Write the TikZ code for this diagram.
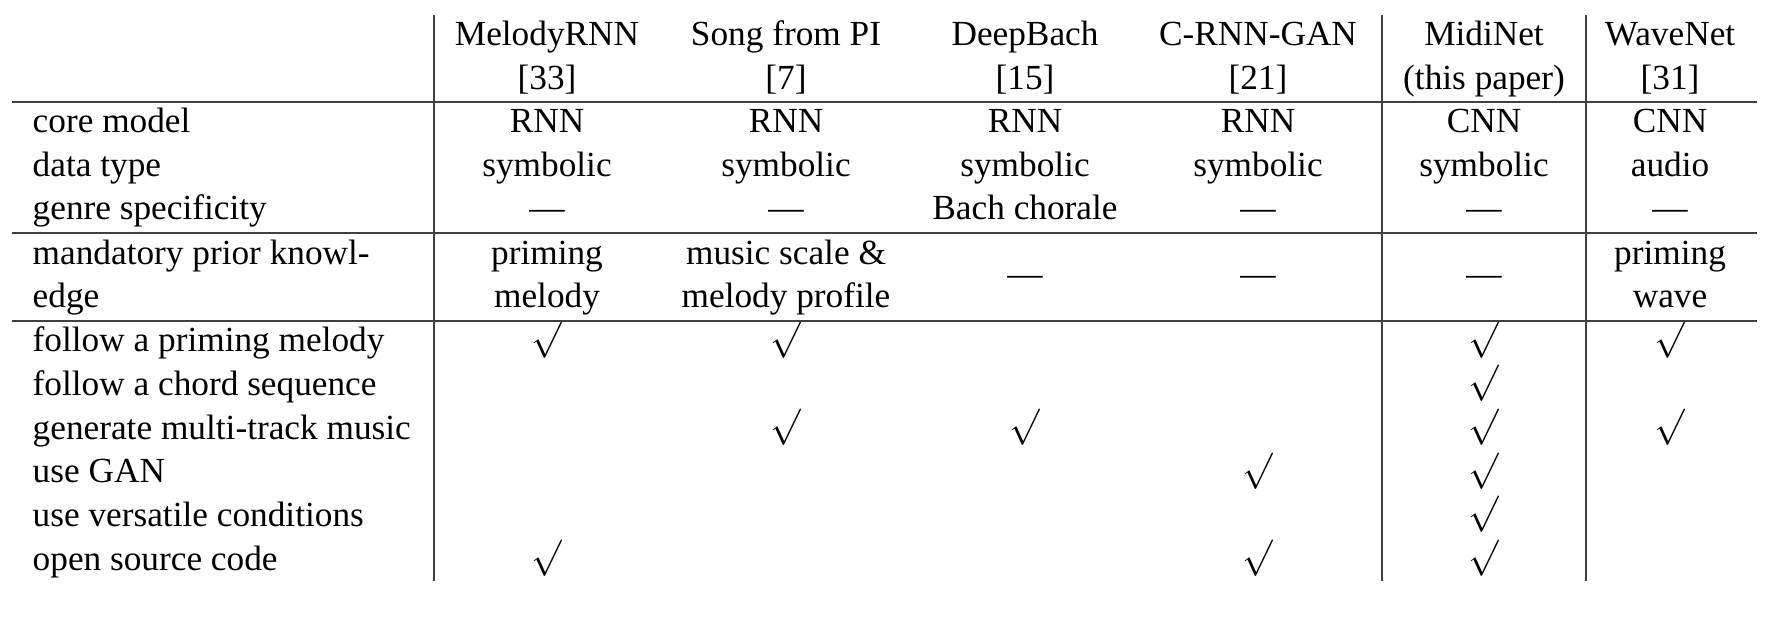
\documentclass[tikz,border=0pt]{standalone}
\usepackage{fontspec}
\setmainfont{Liberation Serif}
\usetikzlibrary{positioning}

\begin{document}
\begin{tikzpicture}
[x=0.275pt, y=-0.275pt,
 cell/.style={anchor=base, inner sep=0pt, font=\fontsize{9.7}{12}\selectfont},
 rowhead/.style={cell, anchor=base west},
 tick/.style={cell},
 rule/.style={draw=black!75, line width=0.55pt}]

  \useasboundingbox (0,0) rectangle (1780,618);

  % column centres
  \foreach \x [count=\c] in {547,786,1025,1258,1484,1670}
    \coordinate (col\c) at (\x,0);

  % header
  \foreach \model/\source [count=\c] in {MelodyRNN/[33], Song from PI/[7], DeepBach/[15], C-RNN-GAN/[21], MidiNet/(this paper), WaveNet/[31]} {
    \node[cell] (model-\c) at (col\c |- 0,45.6) {\model};
    \node[cell] (source-\c) at (col\c |- 0,89.3) {\source};
  }

  % row labels
  \foreach \lbl/\y [count=\r] in {core model/132.6, data type/176.3, genre specificity/220.0, mandatory prior knowl-/264.1, edge/307.8, follow a priming melody/351.8, follow a chord sequence/395.5, generate multi-track music/439.2, use GAN/482.9, use versatile conditions/526.6, open source code/570.3}
    \node[rowhead] (row-\r) at (32,\y) {\lbl};

  \foreach \txt [count=\c] in {RNN,RNN,RNN,RNN,CNN,CNN}
    \node[cell] (core-\c) at (col\c |- 0,132.6) {\txt};
  \foreach \txt [count=\c] in {symbolic,symbolic,symbolic,symbolic,symbolic,audio}
    \node[cell] (data-\c) at (col\c |- 0,176.3) {\txt};
  \foreach \txt [count=\c] in {---,---,Bach chorale,---,---,---}
    \node[cell] (genre-\c) at (col\c |- 0,220.0) {\txt};

  % prior knowledge
  \node[cell] (prior-1) at (col1 |- 0,264.1) {priming};
  \node[cell] (prior-1b) at (col1 |- 0,307.8) {melody};
  \node[cell] (prior-2) at (col2 |- 0,264.1) {music scale \&};
  \node[cell] (prior-2b) at (col2 |- 0,307.8) {melody profile};
  \foreach \c in {3,4,5}
    \node[cell] (prior-\c) at (col\c |- 0,286) {---};
  \node[cell] (prior-6) at (col6 |- 0,264.1) {priming};
  \node[cell] (prior-6b) at (col6 |- 0,307.8) {wave};

  % features
  \foreach \c/\y [count=\k] in {1/351.8, 2/351.8, 5/351.8, 6/351.8, 5/395.5, 2/439.2, 3/439.2, 5/439.2, 6/439.2, 4/482.9, 5/482.9, 5/526.6, 1/570.3, 4/570.3, 5/570.3}
    \node[tick] (tick-\k) at (col\c |- 0,\y) {\raisebox{0.8pt}{$\surd$}};

  % rules
  \foreach \y in {102,233.5,321.2}
    \draw[rule] (12,\y) -- (1757,\y);
  \foreach \x in {434,1382,1586}
    \draw[rule] (\x,15) -- (\x,581);

\end{tikzpicture}
\end{document}
